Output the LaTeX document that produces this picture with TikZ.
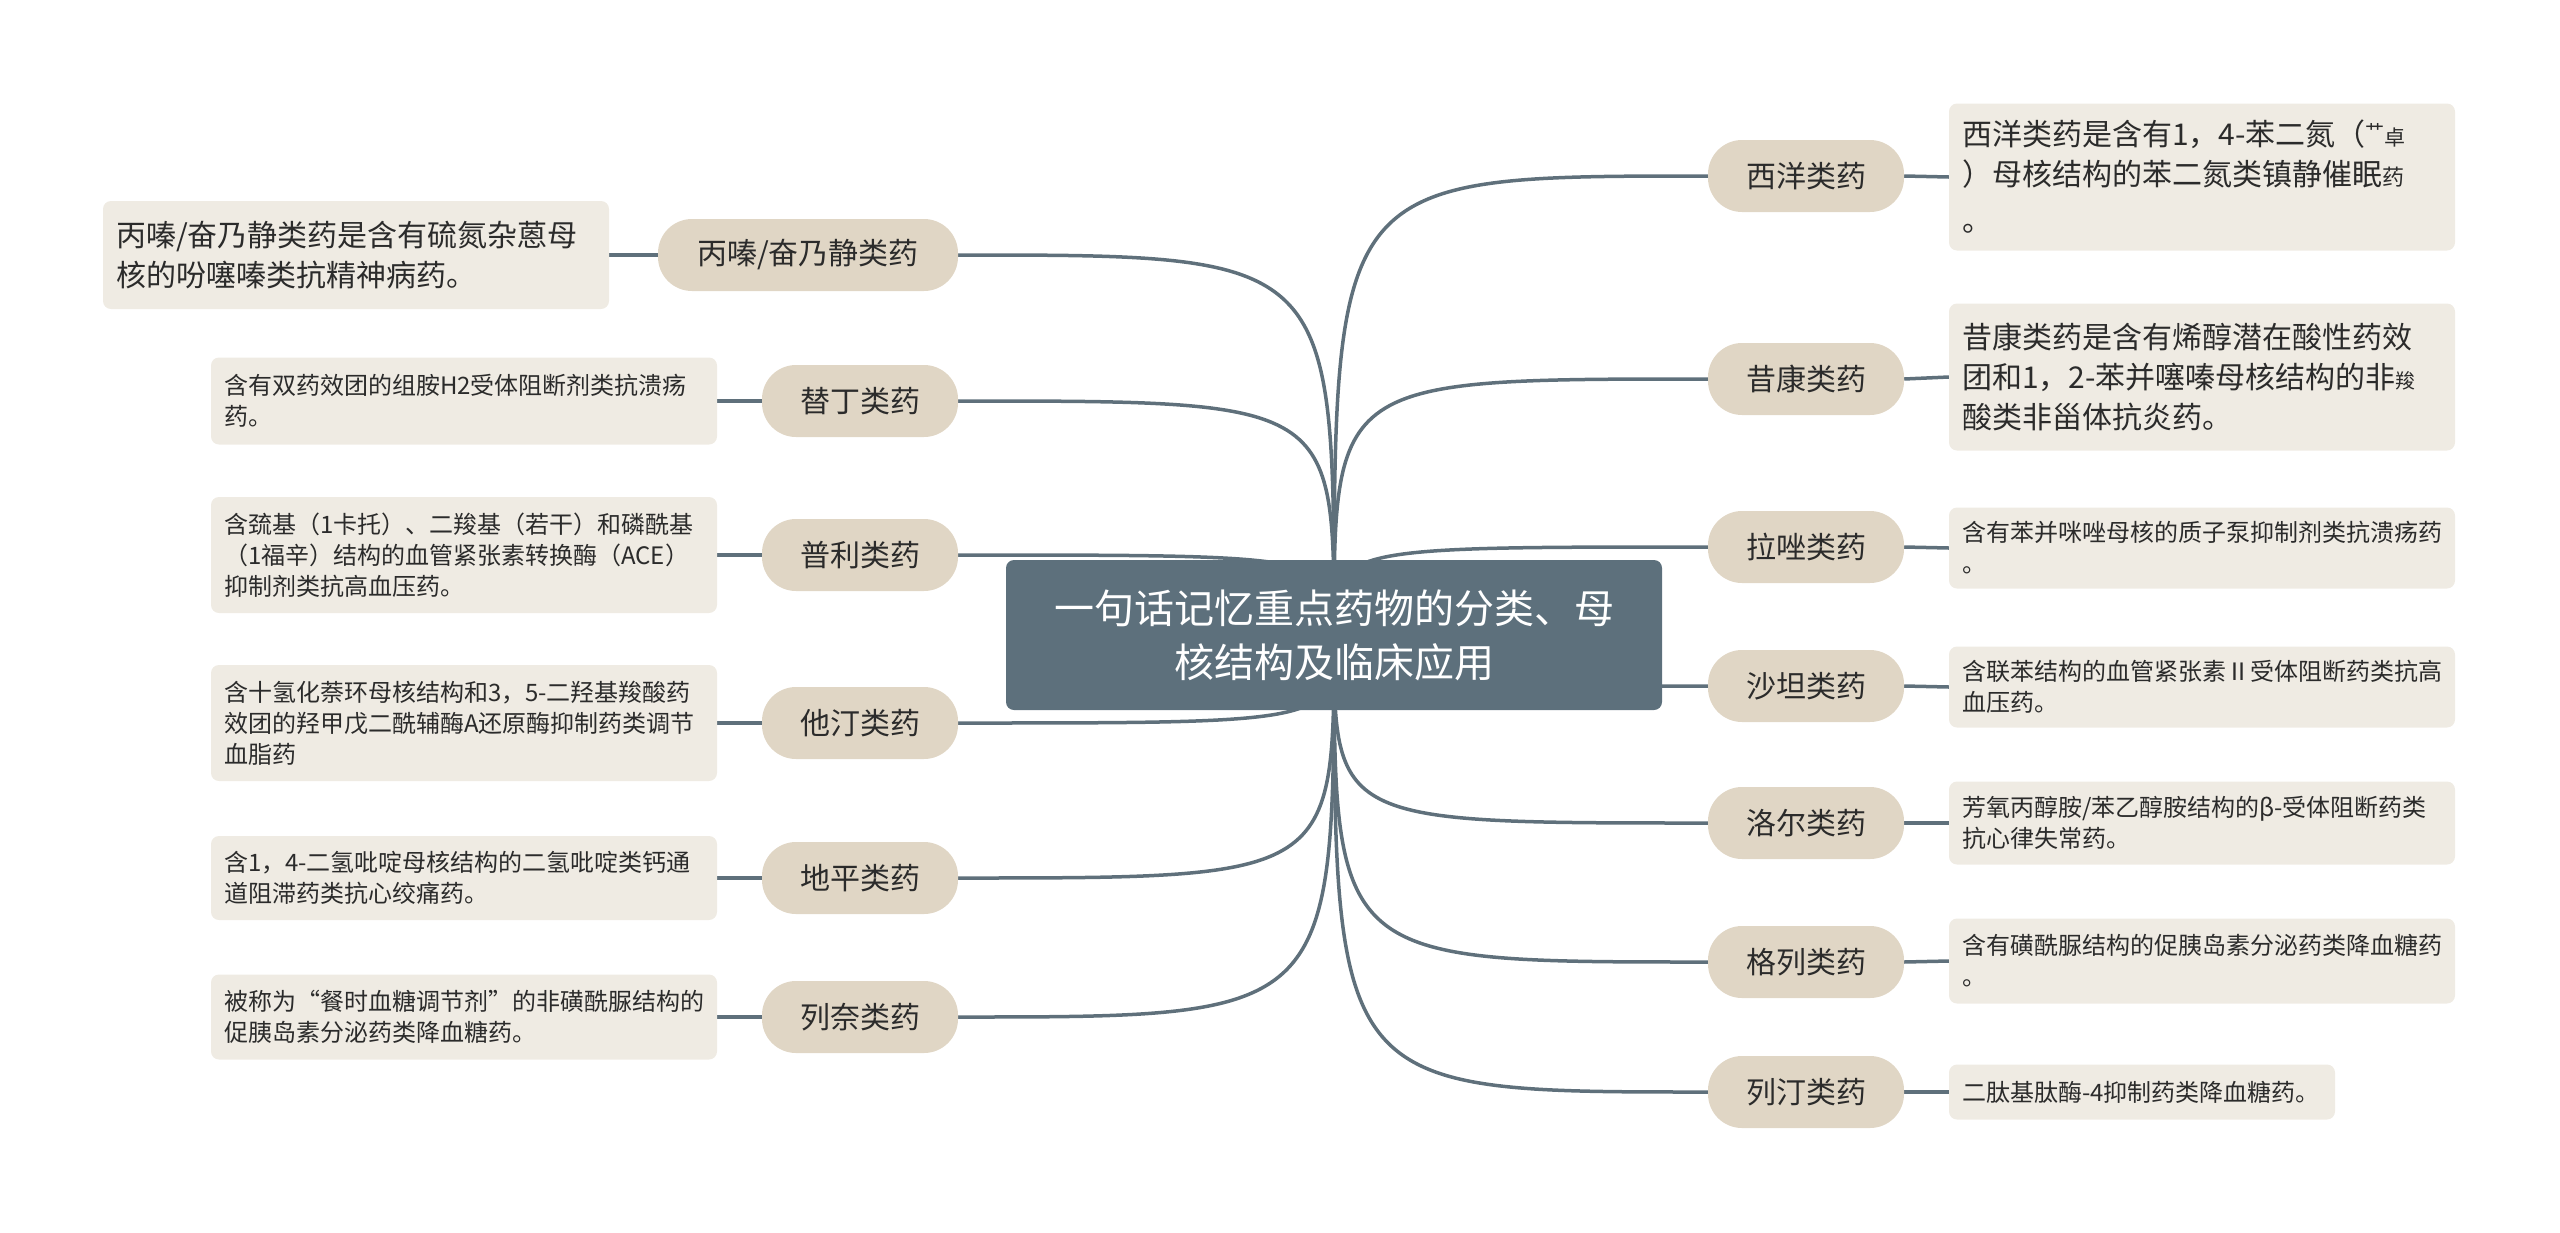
\documentclass[tikz,border=0pt]{standalone}
\usepackage{fontspec}
\newfontfamily\cjk{Noto Sans CJK SC}
\usetikzlibrary{backgrounds}
\definecolor{rootc}{HTML}{5D707C}
\definecolor{pillc}{HTML}{E0D6C5}
\definecolor{leafc}{HTML}{EFEBE3}
\definecolor{linec}{HTML}{5F707B}
\definecolor{txtc}{HTML}{2B2B2B}
\begin{document}
\begin{tikzpicture}[x=1pt,y=-1pt,
 rootbox/.style={fill=rootc, rounded corners=8pt, minimum width=656pt, minimum height=150pt, text=white, align=center, inner sep=0pt, font=\cjk\fontsize{40}{54}\selectfont},
 pill/.style={fill=pillc, rounded corners=34pt, minimum height=72pt, minimum width=196pt, text=txtc, inner sep=0pt, font=\cjk\fontsize{30}{36}\selectfont},
 leafS/.style={fill=leafc, rounded corners=8pt, text=txtc, align=left, text width=480pt, inner xsep=13pt, inner ysep=0pt, font=\cjk\fontsize{24}{31}\selectfont},
 leafL/.style={leafS, font=\cjk\fontsize{30}{40}\selectfont},
 conn/.style={draw=linec, line width=3.5pt},
]
\useasboundingbox (0,0) rectangle (2560,1232);

\node[rootbox] (root) at (1334,635) {一句话记忆重点药物的分类、母\\核结构及临床应用};

% left branches
\node[pill, minimum width=300pt] (bL1) at (808,255) {丙嗪/奋乃静类药};
\node[pill] (bL2) at (860,401) {替丁类药};
\node[pill] (bL3) at (860,555) {普利类药};
\node[pill] (bL4) at (860,723) {他汀类药};
\node[pill] (bL5) at (860,878) {地平类药};
\node[pill] (bL6) at (860,1017) {列奈类药};

% right branches
\node[pill] (bR1) at (1806,176) {西洋类药};
\node[pill] (bR2) at (1806,379) {昔康类药};
\node[pill] (bR3) at (1806,547) {拉唑类药};
\node[pill] (bR4) at (1806,686) {沙坦类药};
\node[pill] (bR5) at (1806,823) {洛尔类药};
\node[pill] (bR6) at (1806,962) {格列类药};
\node[pill] (bR7) at (1806,1092) {列汀类药};

% left leaves
\node[leafL, minimum height=108pt] (lL1) at (356,255) {丙嗪/奋乃静类药是含有硫氮杂蒽母\\核的吩噻嗪类抗精神病药。};
\node[leafS, minimum height=87pt] (lL2) at (464,401) {含有双药效团的组胺H2受体阻断剂类抗溃疡\\药。};
\node[leafS, minimum height=116pt] (lL3) at (464,555) {含巯基（1卡托）、二羧基（若干）和磷酰基\\（1福辛）结构的血管紧张素转换酶（ACE）\\抑制剂类抗高血压药。};
\node[leafS, minimum height=116pt] (lL4) at (464,723) {含十氢化萘环母核结构和3，5-二羟基羧酸药\\效团的羟甲戊二酰辅酶A还原酶抑制药类调节\\血脂药};
\node[leafS, minimum height=84pt] (lL5) at (464,878) {含1，4-二氢吡啶母核结构的二氢吡啶类钙通\\道阻滞药类抗心绞痛药。};
\node[leafS, minimum height=85pt] (lL6) at (464,1017) {被称为“餐时血糖调节剂”的非磺酰脲结构的\\促胰岛素分泌药类降血糖药。};

% right leaves
\node[leafL, minimum height=147pt] (lR1) at (2202,177) {西洋类药是含有1，4-苯二氮（\raisebox{7pt}{\fontsize{19}{19}\selectfont 艹}{\fontsize{21}{21}\selectfont 卓}\\）母核结构的苯二氮类镇静催眠{\fontsize{22}{22}\selectfont 药}\\[6pt]。};
\node[leafL, minimum height=147pt] (lR2) at (2202,377) {昔康类药是含有烯醇潜在酸性药效\\团和1，2-苯并噻嗪母核结构的非{\fontsize{20}{20}\selectfont 羧}\\酸类非甾体抗炎药。};
\node[leafS, minimum height=81pt] (lR3) at (2202,548) {含有苯并咪唑母核的质子泵抑制剂类抗溃疡药\\。};
\node[leafS, minimum height=81pt] (lR4) at (2202,687) {含联苯结构的血管紧张素Ⅱ受体阻断药类抗高\\血压药。};
\node[leafS, minimum height=83pt] (lR5) at (2202,823) {芳氧丙醇胺/苯乙醇胺结构的β-受体阻断药类\\抗心律失常药。};
\node[leafS, minimum height=85pt] (lR6) at (2202,961) {含有磺酰脲结构的促胰岛素分泌药类降血糖药\\。};
\node[leafS, text width=360pt, minimum height=55pt] (lR7) at (2142,1092) {二肽基肽酶-4抑制药类降血糖药。};

\begin{pgfonlayer}{background}
\foreach \b in {bL1,bL2,bL3,bL4,bL5,bL6}{
  \draw[conn] (root.center) .. controls (root.center |- \b.east) .. (\b.east);
}
\foreach \b in {bR1,bR2,bR3,bR4,bR5,bR6,bR7}{
  \draw[conn] (root.center) .. controls (root.center |- \b.west) .. (\b.west);
}
\foreach \i in {1,...,6}{
  \draw[conn] (bL\i.west) -- (lL\i.east);
}
\foreach \i in {1,...,7}{
  \draw[conn] (bR\i.east) -- (lR\i.west);
}
\end{pgfonlayer}
\end{tikzpicture}
\end{document}
